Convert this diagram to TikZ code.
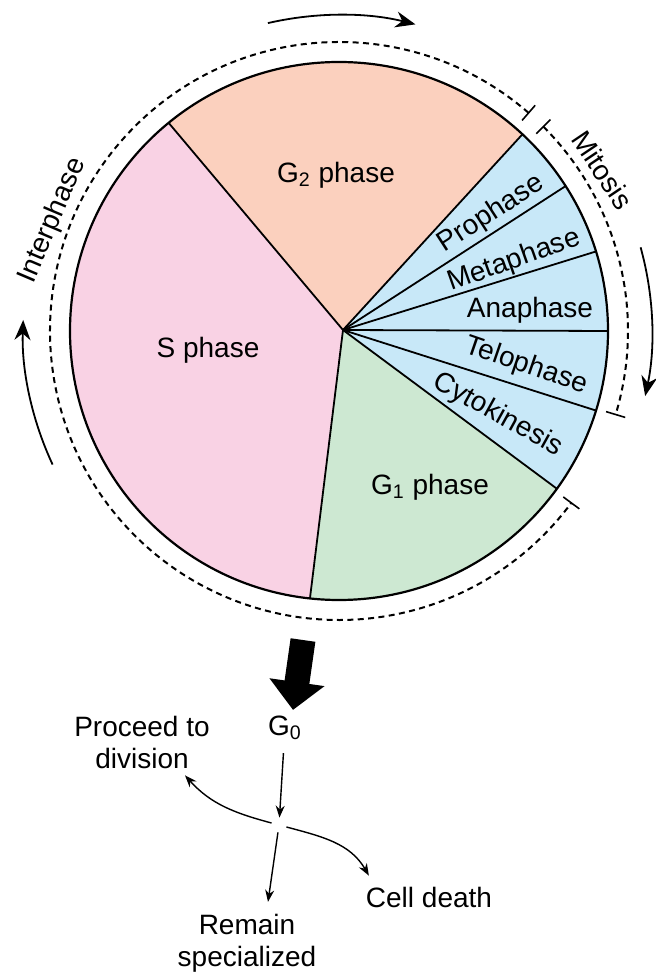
\documentclass[tikz,border=0pt]{standalone}
\usepackage{fontspec}
\setmainfont{Liberation Sans}
\usetikzlibrary{arrows.meta}

\definecolor{sphase}{RGB}{249,210,228}
\definecolor{gtwo}{RGB}{251,208,190}
\definecolor{mito}{RGB}{200,232,248}
\definecolor{gone}{RGB}{205,232,210}

\tikzset{
  cyclearrow/.style={line width=0.9pt, -{Stealth[length=10pt,width=8pt]}},
  stagearrow/.style={line width=0.7pt, -{Stealth[length=6pt,width=4.5pt]}},
  tickmark/.style={line width=0.8pt},
  dashedarc/.style={line width=1pt, dash pattern=on 3pt off 2.2pt},
}

\begin{document}
\begin{tikzpicture}[x=0.5pt, y=0.5pt, font=\fontsize{14}{16}\selectfont]
\useasboundingbox (-339,-642) rectangle (317,331);

    % Centre of the circle and the point where the sectors meet
    \coordinate (C) at (0,0);
    \coordinate (H) at (4,1);

    % Fill the sectors
    \fill[sphase] (H) -- (129.3:269) arc[start angle=129.3, end angle=263.8, radius=269] -- cycle;  % S phase
    \fill[gtwo] (H) -- (47:269) arc[start angle=47, end angle=129.3, radius=269] -- cycle;          % G2 phase
    \fill[mito] (H) -- (-35.9:269) arc[start angle=-35.9, end angle=47, radius=269] -- cycle;       % mitosis
    \fill[gone] (H) -- (-96.2:269) arc[start angle=-96.2, end angle=-35.9, radius=269] -- cycle;    % G1 phase

    % Sector borders and the circle
    \foreach \a in {129.3, 47, 32.6, 17.2, 0, -17.2, -35.9, -96.2}
        \draw[line width=0.9pt] (H) -- (\a:269);
    \draw[line width=1.1pt] (C) circle[radius=269];

    % Phase labels
    \node (g2) at (-3,156) {G\textsubscript{2} phase};
    \node (s) at (-131,-19) {S phase};
    \node (g1) at (91,-156) {G\textsubscript{1} phase};
    \node[rotate=33] (pro) at (152,117) {Prophase};
    \node[rotate=19.5] (meta) at (175,70) {Metaphase};
    \node (ana) at (191,21) {Anaphase};
    \node[rotate=-19] (telo) at (187,-35) {Telophase};
    \node[rotate=-29] (cyto) at (159,-84) {Cytokinesis};

    % Dashed arcs for interphase and mitosis, with end ticks
    \draw[dashedarc] (49:289) arc[start angle=49, end angle=323.5, radius=289];
    \draw[dashedarc] (45:289) arc[start angle=45, end angle=-16.8, radius=289];
    \foreach \a in {49, 45, -16.8, -36.5}
        \draw[tickmark] (\a:279) -- (\a:299);
    \node[rotate=67] (inter) at (158.9:307) {Interphase};
    \node[rotate=-56] (mit) at (31.4:309) {Mitosis};

    % Arrows round the cycle
    \draw[cyclearrow] (103:316) arc[start angle=103, end angle=76, radius=316];
    \draw[cyclearrow] (205:316) arc[start angle=205, end angle=178, radius=316];
    \draw[cyclearrow] (15.5:313) arc[start angle=15.5, end angle=-12, radius=313];

    % G0 and what follows
    \coordinate (drop) at (-36,-309);
    \node (g0) at (-54,-397) {G\textsubscript{0}};
    \node[inner sep=0, minimum size=7pt] (J) at (-60,-494) {};
    \node[align=center] (proceed) at (-197,-411) {Proceed to\\division};
    \node (death) at (90,-566) {Cell death};
    \node[align=center] (remain) at (-92,-612) {Remain\\specialized};

    \draw[line width=12.5pt, -{Triangle[length=14pt,width=27pt]}] (drop) -- ([shift={(8,-1)}]g0.north);
    \draw[stagearrow, shorten <=3pt] (g0) -- (J);
    \draw[stagearrow] (J) to[out=165, in=-48] ([shift={(43,0)}]proceed.south);
    \draw[stagearrow] (J) to[out=-15, in=120] ([shift={(10,4)}]death.north west);
    \draw[stagearrow] (J) -- ([shift={(21,5)}]remain.north);

\end{tikzpicture}
\end{document}
